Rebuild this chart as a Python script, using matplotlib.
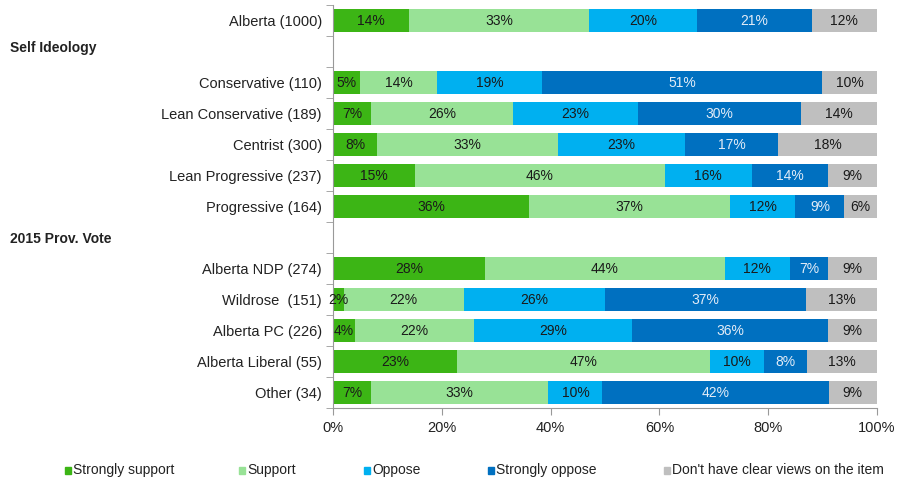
import matplotlib.pyplot as plt
from matplotlib.patches import Rectangle
import numpy as np

plt.rcParams['font.family'] = ['Liberation Sans', 'DejaVu Sans']

# rows from top to bottom, None = section header row (no bar)
rows = ["Alberta (1000)", None, "Conservative (110)", "Lean Conservative (189)",
        "Centrist (300)", "Lean Progressive (237)", "Progressive (164)", None,
        "Alberta NDP (274)", "Wildrose  (151)", "Alberta PC (226)",
        "Alberta Liberal (55)", "Other (34)"]
headers = {"Self Ideology": 48, "2015 Prov. Vote": 239}

strongly_support = [14, 0, 5, 7, 8, 15, 36, 0, 28, 2, 4, 23, 7]
support = [33, 0, 14, 26, 33, 46, 37, 0, 44, 22, 22, 47, 33]
oppose = [20, 0, 19, 23, 23, 16, 12, 0, 12, 26, 29, 10, 10]
strongly_oppose = [21, 0, 51, 30, 17, 14, 9, 0, 7, 37, 36, 8, 42]
no_view = [12, 0, 10, 14, 18, 9, 6, 0, 9, 13, 9, 13, 9]

series = ["Strongly support", "Support", "Oppose", "Strongly oppose",
          "Don't have clear views on the item"]
colors = ["#3cb515", "#98e296", "#00b0f0", "#0070c0", "#bfbfbf"]
text_colors = ["#1a1a1a", "#1a1a1a", "#1a1a1a", "#e3ecf7", "#1a1a1a"]

fig = plt.figure(figsize=(8.98, 4.8), dpi=100)
ax = fig.add_axes([333 / 898, 72 / 480, 544 / 898, 403 / 480])

data = np.array([strongly_support, support, oppose, strongly_oppose, no_view], dtype=float)
totals = data.sum(axis=0)
totals[totals == 0] = 1
widths = data / totals * 100

y = np.arange(len(rows))
left = np.zeros(len(rows))
for k in range(5):
    for i in range(len(rows)):
        if rows[i] is None:
            continue
        w = widths[k][i]
        ax.barh(y[i], w, left=left[i], height=0.75, color=colors[k], linewidth=0)
        ax.text(left[i] + w / 2, y[i] + 0.03, f"{int(data[k][i])}%", ha='center', va='center',
                fontsize=10, color=text_colors[k])
    left += widths[k]

ax.set_xlim(0, 100)
ax.set_ylim(len(rows) - 0.5, -0.5)
ax.set_xticks(np.arange(0, 101, 20))
ax.set_xticklabels([f"{v}%" for v in range(0, 101, 20)], fontsize=10.5, color="#222222")
ax.set_yticks(y)
ax.set_yticklabels([r if r else "" for r in rows], fontsize=10.5, color="#222222")
ax.tick_params(axis='y', length=0, pad=8)
ax.set_yticks(np.arange(-0.5, len(rows), 1), minor=True)
ax.tick_params(axis='y', which='minor', length=5, color="#999999", direction='out')
ax.tick_params(axis='x', length=5, color="#999999", direction='out', pad=4)
for s in ['top', 'right']:
    ax.spines[s].set_visible(False)
for s in ['left', 'bottom']:
    ax.spines[s].set_color("#999999")

# section headers
for txt, py in headers.items():
    fig.text(10 / 898, 1 - py / 480, txt, fontsize=10, fontweight='bold', color="#222222",
             va='center', ha='left')

# legend
leg_x = [65, 239, 364, 488, 664]
for k in range(5):
    x0 = leg_x[k] / 898
    fig.patches.append(Rectangle((x0, 1 - 474 / 480), 6 / 898, 7 / 480,
                                 transform=fig.transFigure, color=colors[k]))
    fig.text(x0 + 8 / 898, 1 - 470 / 480, series[k], fontsize=10, color="#222222",
             va='center', ha='left')

fig.savefig("out.png", dpi=100)
